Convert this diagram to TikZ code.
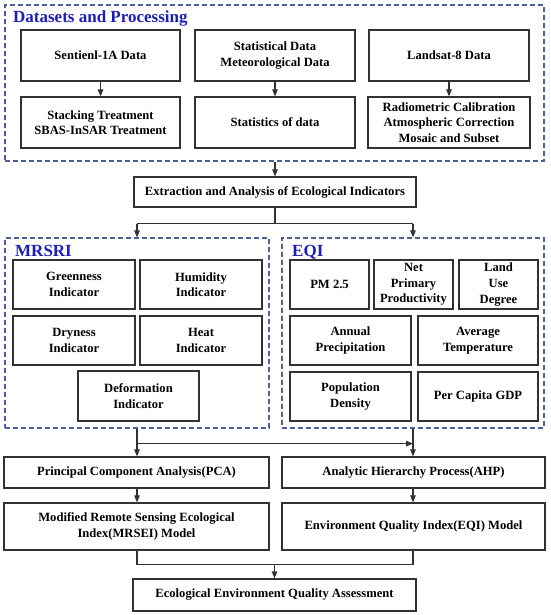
\documentclass[tikz,border=0pt]{standalone}
\usepackage{fontspec}
\setmainfont{Liberation Serif}
\usetikzlibrary{arrows.meta,calc}
\definecolor{linec}{RGB}{50,50,50}
\definecolor{dashc}{RGB}{75,95,155}
\definecolor{titlec}{RGB}{28,30,185}
\tikzset{
  box/.style={draw=linec, line width=1.2pt, fill=white, inner sep=0pt, align=center,
    font=\fontsize{12.6}{15.6}\selectfont\bfseries},
  group/.style={draw=dashc, line width=1.2pt, dash pattern=on 5pt off 3pt, inner sep=0pt},
  grouptitle/.style={text=titlec, font=\fontsize{17}{19}\selectfont\bfseries, inner sep=0pt, anchor=base west},
  conn/.style={draw=linec, line width=1.2pt},
  arr/.style={conn, -{Triangle[length=7pt,width=5.5pt]}}
}
\begin{document}
\begin{tikzpicture}[x=1pt,y=-1pt]
\useasboundingbox (0,0) rectangle (550,615);
% group frames
\node[group, minimum width=539pt, minimum height=156pt] (grp1) at (274.5,83) {};
\node[group, minimum width=264pt, minimum height=190pt] (mrsri) at (137,333) {};
\node[group, minimum width=262pt, minimum height=190pt] (eqi) at (413,333) {};
\node[grouptitle] (t1) at (13,23) {Datasets and Processing};
\node[grouptitle] (t2) at (15,256) {MRSRI};
\node[grouptitle] (t3) at (292,256) {EQI};
% datasets
\node[box, minimum width=159pt, minimum height=51pt] (sent) at (100.5,55.5) {Sentienl-1A Data};
\node[box, minimum width=160pt, minimum height=51pt] (stat) at (275,55.5) {Statistical Data\\Meteorological Data};
\node[box, minimum width=160pt, minimum height=51pt] (land) at (449,55.5) {Landsat-8 Data};
\node[box, minimum width=159pt, minimum height=51pt] (stack) at (100.5,122.5) {Stacking Treatment\\SBAS-InSAR Treatment};
\node[box, minimum width=160pt, minimum height=51pt] (stats) at (275,122.5) {Statistics of data};
\node[box, minimum width=162pt, minimum height=51pt] (radio) at (449,122.5) {Radiometric Calibration\\Atmospheric Correction\\Mosaic and Subset};
\node[box, minimum width=282pt, minimum height=30pt] (extract) at (275,192) {Extraction and Analysis of Ecological Indicators};
% MRSRI
\node[box, minimum width=122pt, minimum height=49pt] (green) at (74,284.5) {Greenness\\Indicator};
\node[box, minimum width=122pt, minimum height=49pt] (humid) at (201,284.5) {Humidity\\Indicator};
\node[box, minimum width=122pt, minimum height=49pt] (dry) at (74,340.5) {Dryness\\Indicator};
\node[box, minimum width=122pt, minimum height=49pt] (heat) at (201,340.5) {Heat\\Indicator};
\node[box, minimum width=121pt, minimum height=50pt] (deform) at (138.5,396) {Deformation\\Indicator};
% EQI
\node[box, minimum width=79pt, minimum height=49pt] (pm) at (329.5,284.5) {PM 2.5};
\node[box, minimum width=79pt, minimum height=49pt] (npp) at (413.5,284.5) {Net\\Primary\\Productivity};
\node[box, minimum width=79pt, minimum height=49pt] (lud) at (498.5,284.5) {Land\\Use\\Degree};
\node[box, minimum width=121pt, minimum height=49pt] (annual) at (350.5,340.5) {Annual\\Precipitation};
\node[box, minimum width=120pt, minimum height=49pt] (avgt) at (478,340.5) {Average\\Temperature};
\node[box, minimum width=121pt, minimum height=49pt] (pop) at (350.5,396.5) {Population\\Density};
\node[box, minimum width=120pt, minimum height=49pt] (gdp) at (478,396.5) {Per Capita GDP};
% models
\node[box, minimum width=265pt, minimum height=31pt] (pca) at (136.5,472.5) {Principal Component Analysis(PCA)};
\node[box, minimum width=263pt, minimum height=31pt] (ahp) at (413.5,472.5) {Analytic Hierarchy Process(AHP)};
\node[box, minimum width=265pt, minimum height=47pt] (mrsei) at (136.5,526.5) {Modified Remote Sensing Ecological\\Index(MRSEI) Model};
\node[box, minimum width=263pt, minimum height=47pt] (eqim) at (413.5,526.5) {Environment Quality Index(EQI) Model};
\node[box, minimum width=283pt, minimum height=32pt] (final) at (274.5,595) {Ecological Environment Quality Assessment};
% connectors
\draw[arr] (sent) -- (stack);
\draw[arr] (stat) -- (stats);
\draw[arr] (land.south) -- (land.south |- radio.north);
\draw[arr] (grp1.south -| extract.north) -- (extract.north);
\coordinate (j1) at ($(extract.south)+(0,16)$);
\draw[conn] (extract.south) -- (j1);
\draw[conn] (mrsri.north |- j1) -- (eqi.north |- j1);
\draw[arr] (mrsri.north |- j1) -- (mrsri.north);
\draw[arr] (eqi.north |- j1) -- (eqi.north);
\coordinate (j2) at ($(mrsri.south)+(0,15)$);
\draw[arr] (mrsri.south) -- (mrsri.south |- pca.north);
\draw[arr] (j2) -- (eqi.south |- j2);
\draw[arr] (eqi.south) -- (eqi.south |- ahp.north);
\draw[arr] (pca.south -| mrsri.south) -- (mrsri.south |- mrsei.north);
\draw[arr] (ahp.south -| eqi.south) -- (eqi.south |- eqim.north);
\coordinate (j3) at ($(mrsei.south -| mrsri.south)+(0,14)$);
\draw[conn] (mrsei.south -| mrsri.south) -- (j3) -- (eqi.south |- j3) -- (eqi.south |- eqim.south);
\draw[arr] (final.north |- j3) -- (final.north);
\end{tikzpicture}
\end{document}
